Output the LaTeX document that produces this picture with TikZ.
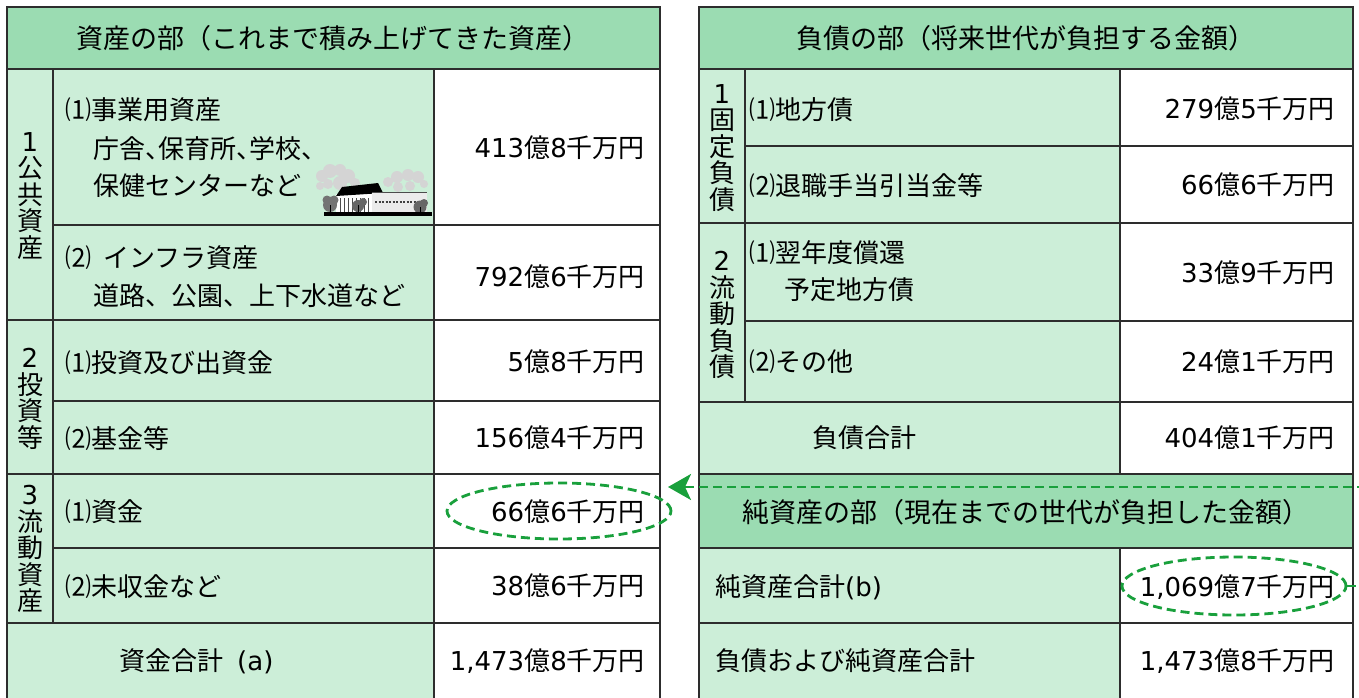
\documentclass[tikz,border=0pt]{standalone}
\usepackage{fontspec}
\setmainfont{Noto Sans CJK JP}
\newfontfamily\latf{DejaVu Sans}
\newcommand\dg[1]{{\latf #1}}
\newcommand\tcm{\makebox[13pt][l]{、}}
\usetikzlibrary{shapes.geometric,arrows.meta}
\definecolor{headg}{RGB}{155,220,178}
\definecolor{lightg}{RGB}{204,238,216}
\definecolor{linec}{RGB}{45,45,45}
\definecolor{dashg}{RGB}{25,160,60}
\definecolor{cloudg}{RGB}{212,212,212}
\begin{document}
\begin{tikzpicture}[x=1pt,y=-1pt,
 cellH/.style={fill=headg,draw=linec,line width=1.6pt},
 cellL/.style={fill=lightg,draw=linec,line width=1.6pt},
 cellW/.style={fill=white,draw=linec,line width=1.6pt},
 txt/.style={inner sep=0pt,font=\fontsize{26}{30}\selectfont},
 lt/.style={txt,anchor=west},
 rt/.style={txt,anchor=east},
 htxt/.style={inner sep=0pt,font=\fontsize{27}{30}\selectfont},
 vlab/.style={inner sep=0pt,align=center,font=\fontsize{26}{26.5}\selectfont},
 ring/.style={ellipse,draw=dashg,line width=2.8pt,dash pattern=on 9pt off 5pt,inner sep=0pt},
 link/.style={draw=dashg,line width=2.8pt,dash pattern=on 9pt off 5pt}
]
\useasboundingbox (0,0) rectangle (1359,698);
\fill[white] (0,0) rectangle (1359,698);
% ---------- left table ----------
\draw[cellH] (7,7) rectangle (660,69);
\draw[cellL] (7,69) rectangle (53,320);
\draw[cellL] (7,320) rectangle (53,474);
\draw[cellL] (7,474) rectangle (53,623);
\draw[cellL] (53,69) rectangle (434,225);
\draw[cellL] (53,225) rectangle (434,320);
\draw[cellL] (53,320) rectangle (434,401);
\draw[cellL] (53,401) rectangle (434,474);
\draw[cellL] (53,474) rectangle (434,548);
\draw[cellL] (53,548) rectangle (434,623);
\draw[cellL] (7,623) rectangle (434,702);
\draw[cellW] (434,69) rectangle (660,225);
\draw[cellW] (434,225) rectangle (660,320);
\draw[cellW] (434,320) rectangle (660,401);
\draw[cellW] (434,401) rectangle (660,474);
\draw[cellW] (434,474) rectangle (660,548);
\draw[cellW] (434,548) rectangle (660,623);
\draw[cellW] (434,623) rectangle (660,702);
% ---------- right table ----------
\draw[cellH] (699,7) rectangle (1353,69);
\draw[cellL] (699,69) rectangle (745,223);
\draw[cellL] (699,223) rectangle (745,402);
\draw[cellL] (745,69) rectangle (1120,146);
\draw[cellL] (745,146) rectangle (1120,223);
\draw[cellL] (745,223) rectangle (1120,321);
\draw[cellL] (745,321) rectangle (1120,402);
\draw[cellL] (699,402) rectangle (1120,474);
\draw[cellH] (699,474) rectangle (1353,548);
\draw[cellL] (699,548) rectangle (1120,623);
\draw[cellL] (699,623) rectangle (1120,702);
\draw[cellW] (1120,69) rectangle (1353,146);
\draw[cellW] (1120,146) rectangle (1353,223);
\draw[cellW] (1120,223) rectangle (1353,321);
\draw[cellW] (1120,321) rectangle (1353,402);
\draw[cellW] (1120,402) rectangle (1353,474);
\draw[cellW] (1120,548) rectangle (1353,623);
\draw[cellW] (1120,623) rectangle (1353,702);
% ---------- building illustration ----------
\fill[cloudg] (322,176) circle (6) (330,171) circle (7) (340,170) circle (6) (348,176) circle (7)
  (355,183) circle (5) (340,183) circle (7) (328,184) circle (5) (320,186) circle (4);
\fill[cloudg] (388,182) circle (5) (397,177) circle (6) (408,175) circle (6) (418,177) circle (6)
  (424,184) circle (4) (410,186) circle (5) (398,187) circle (5);
\fill[white] (336,194) rectangle (373,213);
\fill[black] (336,196) -- (342,187) -- (378,183) -- (383,193) -- cycle;
\fill[white!92!black] (372,192) rectangle (427,213);
\draw[black!70,line width=1pt] (372,192) -- (427,192);
\draw[black!75,line width=2.5pt,dash pattern=on 2pt off 1.5pt] (375,202) -- (425,202);
\foreach \xx in {340,344,348,352,356,360,364,368}
  \draw[black!70,line width=0.8pt] (\xx,198) -- (\xx,212);
\fill[black!55] (330,205) circle (7) (327,200) circle (4.5) (334,200) circle (4.5);
\fill[black!60] (358,206) circle (6) (363,202) circle (4);
\fill[black!60] (420,207) circle (6.5) (424,203) circle (4);
\draw[black,line width=0.8pt] (330,205) -- (330,214) (358,205) -- (358,214) (420,207) -- (420,214);
\fill[black] (324,212) rectangle (432,216);
% ---------- left texts ----------
\node[htxt] (hA) at (333,38) {資産の部（これまで積み上げてきた資産）};
\node[vlab] (g1) at (30,196) {\dg{1}\\公\\共\\資\\産};
\node[vlab] (g2) at (30,399) {\dg{2}\\投\\資\\等};
\node[vlab] (g3) at (30,549) {\dg{3}\\流\\動\\資\\産};
\node[lt] (a1) at (65,110) {⑴事業用資産};
\node[lt] (a1b) at (93,149) {庁舎\tcm 保育所\tcm 学校\tcm};
\node[lt] (a1c) at (93,186) {保健センターなど};
\node[lt] (a2) at (65,258) {⑵\hspace{12pt}インフラ資産};
\node[lt] (a2b) at (93,296) {道路、公園、上下水道など};
\node[lt] (a3) at (65,363) {⑴投資及び出資金};
\node[lt] (a4) at (65,439) {⑵基金等};
\node[lt] (a5) at (65,512) {⑴資金};
\node[lt] (a6) at (65,587) {⑵未収金など};
\node[lt] (a7) at (119,661) {資金合計\hspace{14pt}\dg{(a)}};
\node[rt] (v1) at (645,148) {\dg{413}億\dg{8}千万円};
\node[rt] (v2) at (645,277) {\dg{792}億\dg{6}千万円};
\node[rt] (v3) at (645,362) {\dg{5}億\dg{8}千万円};
\node[rt] (v4) at (645,438) {\dg{156}億\dg{4}千万円};
\node[rt] (v5) at (645,512) {\dg{66}億\dg{6}千万円};
\node[rt] (v6) at (645,586) {\dg{38}億\dg{6}千万円};
\node[rt] (v7) at (645,661) {\dg{1,473}億\dg{8}千万円};
% ---------- right texts ----------
\node[htxt] (hB) at (1026,38) {負債の部（将来世代が負担する金額）};
\node[vlab] (g4) at (722,148) {\dg{1}\\固\\定\\負\\債};
\node[vlab] (g5) at (722,315) {\dg{2}\\流\\動\\負\\債};
\node[lt] (b1) at (749,110) {⑴地方債};
\node[lt] (b2) at (749,186) {⑵退職手当引当金等};
\node[lt] (b3) at (749,253) {⑴翌年度償還};
\node[lt] (b3b) at (784,290) {予定地方債};
\node[lt] (b4) at (749,362) {⑵その他};
\node[lt] (b5) at (812,438) {負債合計};
\node[htxt] (hC) at (1026,512) {純資産の部（現在までの世代が負担した金額）};
\node[lt] (b6) at (715,587) {純資産合計\dg{(b)}};
\node[lt] (b7) at (715,661) {負債および純資産合計};
\node[rt] (w1) at (1335,109) {\dg{279}億\dg{5}千万円};
\node[rt] (w2) at (1335,185) {\dg{66}億\dg{6}千万円};
\node[rt] (w3) at (1335,273) {\dg{33}億\dg{9}千万円};
\node[rt] (w4) at (1335,362) {\dg{24}億\dg{1}千万円};
\node[rt] (w5) at (1335,438) {\dg{404}億\dg{1}千万円};
\node[rt] (w6) at (1335,587) {\dg{1,069}億\dg{7}千万円};
\node[rt] (w7) at (1335,661) {\dg{1,473}億\dg{8}千万円};
% ---------- rings and connector ----------
\node[ring,minimum width=224pt,minimum height=56pt] (e1) at (559,511) {};
\node[ring,minimum width=224pt,minimum height=58pt] (e2) at (1234,586) {};
\coordinate (turn) at (1370,586);
\coordinate (tip) at (668,487);
\draw[link,-{Stealth[length=23pt,width=26pt,inset=6pt]}] (e2.east) -- (turn) |- (tip);
\end{tikzpicture}
\end{document}
